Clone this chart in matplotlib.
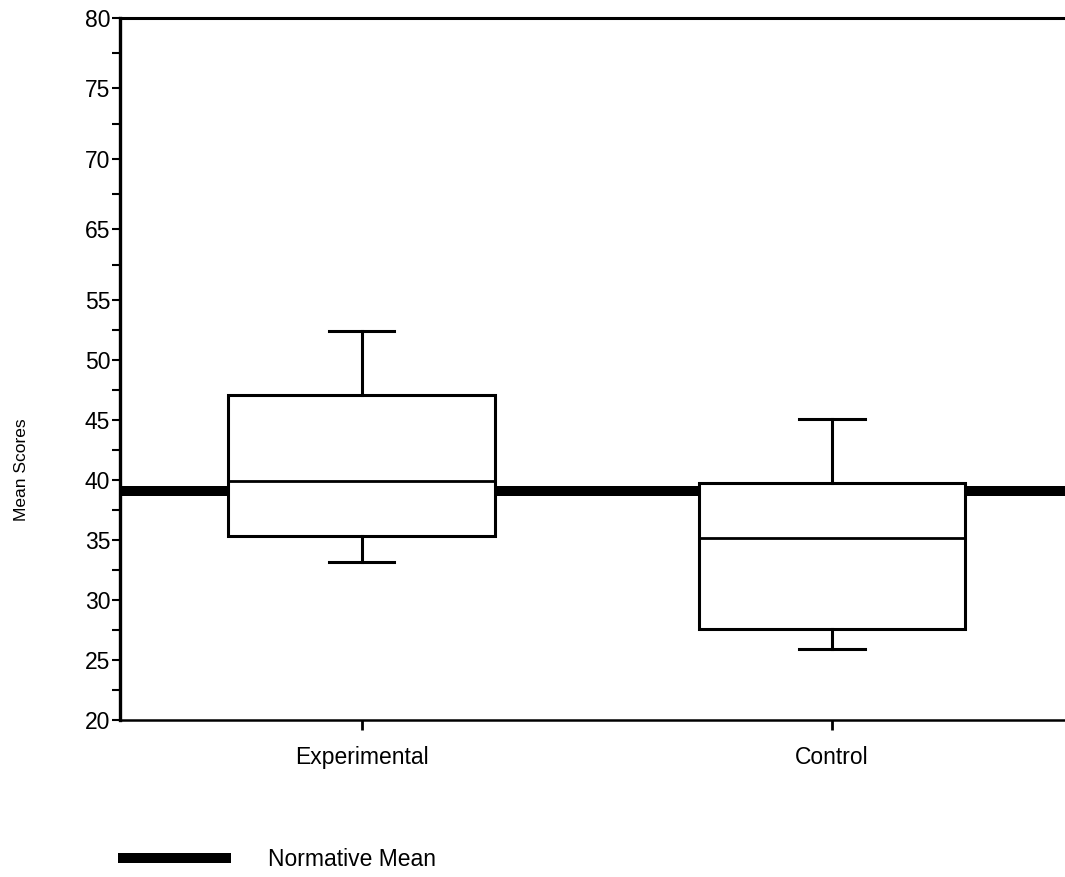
import numpy as np
import matplotlib
matplotlib.use("Agg")
import matplotlib.pyplot as plt

plt.rcParams['font.family'] = ['Liberation Sans', 'DejaVu Sans']

# data
groups = ["Experimental", "Control"]
whisker_low = [33.2, 25.9]
box_low = [35.3, 27.6]
medians = [39.9, 35.2]
box_high = [47.1, 39.75]
whisker_high = [52.4, 45.1]
normative_mean = 39.1

ytick_labels = ["20", "25", "30", "35", "40", "45", "50", "55", "65", "70", "75", "80"]


def main():
    fig = plt.figure(figsize=(10.65, 8.77), dpi=100)
    ax = fig.add_axes([0.1127, 0.179, 0.8873, 0.8005])

    stats = []
    for i, name in enumerate(groups):
        stats.append({
            "label": name,
            "whislo": whisker_low[i],
            "q1": box_low[i],
            "med": medians[i],
            "q3": box_high[i],
            "whishi": whisker_high[i],
            "fliers": [],
        })

    ax.axhline(normative_mean, color="black", lw=7.2, zorder=1,
               solid_capstyle="butt", label="Normative Mean")

    ax.bxp(stats, positions=[1, 2], widths=0.567, patch_artist=True,
           showfliers=False,
           boxprops=dict(facecolor="white", edgecolor="black", linewidth=2.2),
           medianprops=dict(color="black", linewidth=2.0),
           whiskerprops=dict(color="black", linewidth=2.2),
           capprops=dict(color="black", linewidth=2.2),
           capwidths=0.14, zorder=3)

    ax.set_xlim(0.4867, 2.495)
    ax.set_ylim(20, 78.5)

    # the upper part of the axis has wider, unevenly labelled steps
    lower = np.arange(20, 56, 5)
    upper = np.linspace(55, 78.5, 5)[1:]
    yticks = np.concatenate([lower, upper])
    ax.set_yticks(yticks)
    ax.set_yticklabels(ytick_labels, fontsize=16.5)
    ax.set_yticks((yticks[:-1] + yticks[1:]) / 2, minor=True)

    ax.set_xticks([1, 2])
    ax.set_xticklabels(groups, fontsize=16.5)

    ax.tick_params(axis="y", which="both", direction="out", length=6, width=1.5, pad=1)
    ax.tick_params(axis="x", direction="out", length=7, width=2, pad=12)

    ax.spines["right"].set_visible(False)
    ax.spines["left"].set_linewidth(2.4)
    ax.spines["top"].set_linewidth(2.2)
    ax.spines["bottom"].set_linewidth(1.8)

    fig.text(22 / 1065, 1 - 470 / 877, "Mean Scores", rotation=90,
             ha="center", va="center", fontsize=12.5)

    ax.legend(loc="center left", bbox_to_anchor=(118 / 1065, 1 - 860 / 877),
              bbox_transform=fig.transFigure, frameon=False, fontsize=16.5,
              borderpad=0, borderaxespad=0, handlelength=4.95, handletextpad=1.6)

    fig.savefig("out.png", dpi=100)


if __name__ == "__main__":
    main()
